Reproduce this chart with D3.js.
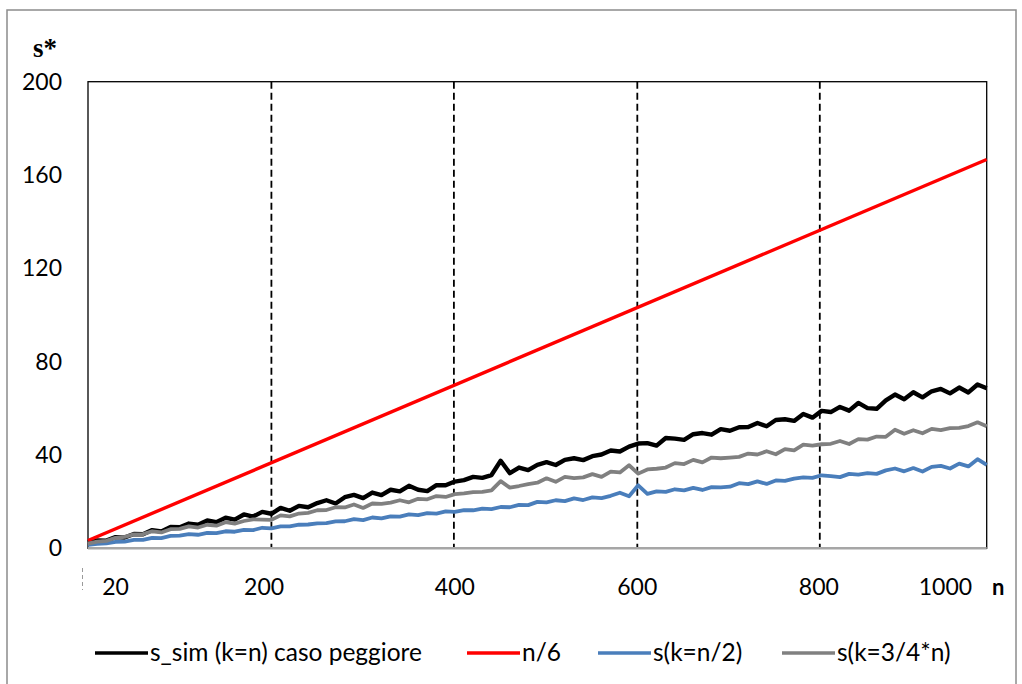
<!DOCTYPE html>
<html><head><meta charset="utf-8">
<script src="https://cdn.jsdelivr.net/npm/d3@7"></script>
<style>html,body{margin:0;padding:0;background:#fff;} svg{display:block;}</style>
</head><body>
<svg id="chart" width="1022" height="684"></svg>
<script>
// ---- data ----
const nValues = d3.range(20, 1001, 10); // 20,30,...,1000
const sSimWorst = [2.5,3.4,3.3,4.8,4.6,6.1,6.0,7.8,7.2,9.1,
  9.0,10.6,10.1,11.9,11.2,13.1,12.3,14.5,13.6,15.6,
  14.8,17.3,16.1,18.2,17.6,19.4,20.6,19.2,21.9,22.9,
  21.5,23.9,22.8,25.1,24.4,26.8,25.1,24.5,27.1,27.0,
  28.6,29.2,30.6,30.2,31.4,37.5,32.2,34.6,33.5,35.8,
  36.9,35.7,37.9,38.6,37.8,39.5,40.2,41.9,41.5,43.6,
  44.9,45.1,44.0,47.3,47.0,46.5,48.9,49.4,48.7,51.1,
  50.4,51.9,52.0,53.7,52.3,55.0,55.3,54.6,57.6,56.0,
  58.9,58.4,60.6,59.0,62.3,60.1,59.8,63.4,65.9,63.9,
  66.9,64.7,67.3,68.3,66.4,68.9,66.8,70.2,68.6];
const nOver6N = [20, 1000];
const nOver6 = [3.33, 166.67];
const sHalf = [1.5,1.9,2.1,2.8,2.9,3.6,3.6,4.5,4.4,5.3,
  5.4,6.1,5.8,6.6,6.5,7.3,7.1,7.9,7.8,8.8,
  8.5,9.4,9.4,10.1,10.2,10.7,10.8,11.5,11.6,12.5,
  12.1,13.2,12.8,13.7,13.6,14.5,14.2,15.1,14.9,15.8,
  15.6,16.4,16.3,17.0,16.8,17.7,17.6,18.6,18.5,19.9,
  19.7,20.6,20.2,21.4,20.7,21.8,21.5,22.5,23.8,22.3,
  27.0,23.3,24.4,24.2,25.3,24.8,25.9,25.0,26.2,26.1,
  26.4,27.9,27.5,28.7,27.6,29.1,28.9,29.9,30.4,30.2,
  31.3,30.9,30.5,31.9,31.6,32.2,31.9,33.4,34.2,33.0,
  34.4,32.9,34.9,35.3,34.2,36.3,35.1,38.2,35.8];
const sThreeQuarter = [2.0,2.9,3.2,4.5,4.9,6.0,6.1,7.3,6.8,8.2,
  8.3,9.4,8.9,10.1,9.7,11.2,10.6,11.7,12.4,12.3,
  12.2,14.1,13.7,14.9,15.2,16.3,16.4,17.6,17.5,18.8,
  17.3,19.2,19.0,19.6,20.6,19.7,21.2,21.0,22.4,22.0,
  23.2,23.5,24.1,24.2,24.8,28.8,26.0,26.7,27.5,28.1,
  30.0,28.5,30.6,30.1,30.4,31.8,30.6,32.9,32.5,35.6,
  32.0,33.8,34.1,34.6,36.5,36.1,37.9,36.8,38.9,38.6,
  38.9,39.2,40.6,40.2,41.6,40.3,42.5,42.0,44.4,44.0,
  44.6,44.8,46.0,44.7,46.8,46.6,47.9,47.8,50.8,49.1,
  50.6,49.3,51.2,50.7,51.5,51.6,52.4,54.0,52.3];
const yTicks = [0, 40, 80, 120, 160, 200];
const xTickLabels = ["20", "200", "400", "600", "800", "1000"];
const xTickAt = [50, 212, 420, 619, 817, 955];
const gridAt = [220, 419, 619, 818];
const seriesNames = ["s_sim (k=n) caso peggiore", "n/6", "s(k=n/2)", "s(k=3/4*n)"];
const seriesColors = ["#000000", "#ff0000", "#4a7ebb", "#808080"];

// ---- layout ----
const svg = d3.select("#chart");
const L = 88, R = 986.7, T = 81.7, B = 548.3;
const x = d3.scaleLinear().domain([20, 1000]).range([L, R]);
const y = d3.scaleLinear().domain([0, 200]).range([B, T]);
const FONT = "Lato, 'Open Sans', sans-serif";

// outer frame
svg.append("rect").attr("x", 7).attr("y", 10).attr("width", 1009).attr("height", 720)
  .attr("fill", "none").attr("stroke", "#8c8c8c").attr("stroke-width", 1.5);

// plot frame
svg.append("rect").attr("x", L).attr("y", T).attr("width", R - L).attr("height", B - T)
  .attr("fill", "none").attr("stroke", "#000").attr("stroke-width", 1.3);

// dashed verticals
svg.append("g").selectAll("line").data(gridAt).join("line")
  .attr("x1", d => x(d)).attr("x2", d => x(d)).attr("y1", T).attr("y2", B)
  .attr("stroke", "#000").attr("stroke-width", 1.8).attr("stroke-dasharray", "7,4");

// bottom axis line (grey)
svg.append("line").attr("x1", L).attr("x2", R).attr("y1", B).attr("y2", B)
  .attr("stroke", "#a6a6a6").attr("stroke-width", 2.5);

// y axis labels
const yAxis = d3.axisLeft(y).tickValues(yTicks).tickSize(0).tickPadding(26);
const gy = svg.append("g").attr("transform", `translate(${L},0)`).call(yAxis);
gy.select(".domain").remove();
gy.selectAll("text").attr("font-family", FONT).attr("font-size", 23).attr("fill", "#000");

// x axis labels
svg.append("g").selectAll("text").data(xTickLabels).join("text")
  .attr("x", (d, i) => x(xTickAt[i])).attr("y", 595)
  .attr("text-anchor", "middle").attr("font-family", FONT).attr("font-size", 23).attr("fill", "#000")
  .text(d => d);

// small clipped artifact left of "20"
svg.append("line").attr("x1", 82.5).attr("x2", 82.5).attr("y1", 568).attr("y2", 590)
  .attr("stroke", "#9a9a9a").attr("stroke-width", 1).attr("stroke-dasharray", "4,3");

// axis titles
svg.append("text").attr("x", 33).attr("y", 57).attr("font-family", "'Liberation Serif', 'DejaVu Serif', serif")
  .attr("font-weight", "bold").attr("font-size", 27).text("s*");
svg.append("text").attr("x", 992).attr("y", 595).attr("font-family", FONT)
  .attr("font-weight", "bold").attr("font-size", 22).text("n");

// lines
const line = d3.line().x(d => x(d[0])).y(d => y(d[1]));
const series = [
  {pts: nValues.map((n, i) => [n, sSimWorst[i]]), w: 4.4},
  {pts: nOver6N.map((n, i) => [n, nOver6[i]]), w: 3.4},
  {pts: nValues.map((n, i) => [n, sHalf[i]]), w: 3.8},
  {pts: nValues.map((n, i) => [n, sThreeQuarter[i]]), w: 3.8}
];
series.forEach((s, i) => {
  svg.append("path").datum(s.pts).attr("d", line).attr("fill", "none")
    .attr("stroke", seriesColors[i]).attr("stroke-width", s.w).attr("stroke-linejoin", "round");
});

// legend
const legX = [95, 467, 598, 782];
const lg = svg.append("g");
seriesNames.forEach((name, i) => {
  lg.append("line").attr("x1", legX[i]).attr("x2", legX[i] + 53).attr("y1", 653).attr("y2", 653)
    .attr("stroke", seriesColors[i]).attr("stroke-width", 3.5);
  lg.append("text").attr("x", legX[i] + 55).attr("y", 661).attr("font-family", FONT)
    .attr("font-size", 24.5).attr("fill", "#000").text(name);
});
</script>
</body></html>
